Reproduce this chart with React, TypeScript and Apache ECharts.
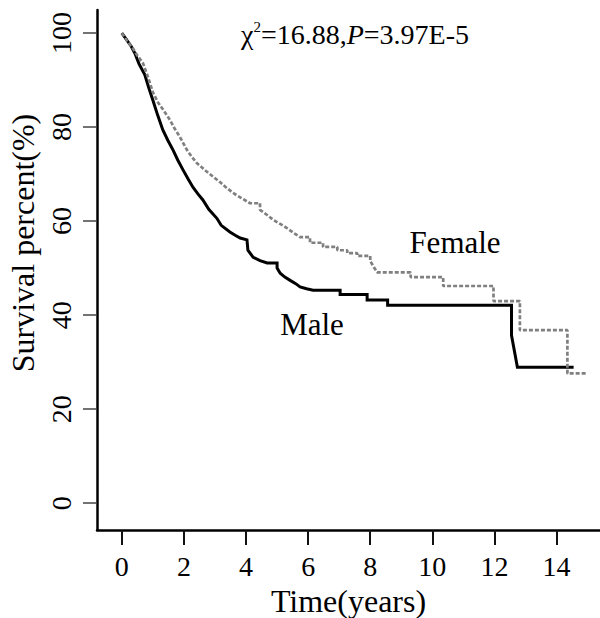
import React, { useEffect, useRef } from "react";
import * as echarts from "echarts";

const maleTime = [0, 0.15, 0.3, 0.42, 0.55, 0.74, 0.87, 1.0, 1.15, 1.32, 1.48, 1.65, 1.8, 1.97, 2.13, 2.29, 2.45, 2.61, 2.8, 3.06, 3.2, 3.48, 3.65, 3.81, 4.03, 4.06, 4.23, 4.45, 4.68, 5.0, 5.1, 5.25, 5.42, 5.6, 5.74, 5.95, 6.16, 7.03, 7.9, 8.56, 12.55, 12.74, 14.55];
const maleSurv = [100, 98.6, 97.2, 95.7, 93.5, 91.1, 88.3, 85.7, 82.6, 79.4, 77.2, 75.1, 73.0, 70.9, 69.0, 67.2, 65.8, 64.5, 62.5, 60.6, 59.1, 57.7, 57.0, 56.4, 56.0, 53.8, 52.3, 51.6, 51.1, 50.0, 48.9, 48.1, 47.4, 46.7, 46.0, 45.6, 45.3, 44.4, 43.2, 42.1, 35.7, 28.9, 28.9];

const femaleTime = [0, 0.15, 0.35, 0.5, 0.68, 0.85, 1.0, 1.16, 1.35, 1.55, 1.7, 1.87, 2.1, 2.25, 2.42, 2.6, 2.74, 2.95, 3.16, 3.35, 3.58, 3.85, 4.13, 4.45, 4.68, 4.87, 5.1, 5.32, 5.55, 5.74, 6.06, 6.48, 6.94, 7.26, 7.58, 8.0, 8.22, 9.3, 10.35, 11.97, 12.82, 14.35, 15.0];
const femaleSurv = [100, 98.5, 96.8, 95.2, 93.6, 90.5, 87.4, 85.3, 83.5, 81.5, 79.7, 77.9, 75.1, 73.7, 72.3, 71.3, 70.5, 69.4, 68.3, 67.2, 66.0, 64.9, 63.8, 62.4, 61.3, 60.3, 59.4, 58.5, 57.4, 56.6, 55.4, 54.5, 53.8, 53.2, 52.6, 51.5, 49.1, 48.1, 46.2, 43.0, 36.8, 27.6, 27.6];

const xTicks = [0, 2, 4, 6, 8, 10, 12, 14];
const yTicks = [0, 20, 40, 60, 80, 100];

const FONT = "'Liberation Serif', 'Times New Roman', serif";

// Kaplan-Meier path: dense early events drawn as a continuous line,
// long gaps drawn as a horizontal step followed by the drop.
function kmPath(times: number[], surv: number[]) {
  const out: number[][] = [[times[0], surv[0]]];
  for (let i = 1; i < times.length; i++) {
    if (times[i] - times[i - 1] > 0.3) out.push([times[i], surv[i - 1]]);
    out.push([times[i], surv[i]]);
  }
  return out;
}

export default function App() {
  const ref = useRef<HTMLDivElement>(null);
  useEffect(() => {
    document.body.style.margin = "0";
    if (!ref.current) return;
    const chart = echarts.init(ref.current, null, { renderer: "svg" });
    chart.setOption({
      animation: false,
      backgroundColor: "#fff",
      grid: { left: 97, top: 10, right: 0, bottom: 88, containLabel: false, outerBoundsMode: "none" },
      xAxis: {
        type: "value",
        min: -0.8,
        max: 15.4,
        axisLine: { show: true, onZero: false, lineStyle: { color: "#000", width: 2.5 } },
        axisTick: { show: true, length: 15, customValues: xTicks, lineStyle: { color: "#111", width: 2 } },
        axisLabel: { customValues: xTicks, margin: 22, fontSize: 28, fontFamily: FONT, color: "#000" },
        splitLine: { show: false },
        name: "Time(years)",
        nameLocation: "middle",
        nameGap: 48,
        nameTextStyle: { fontSize: 32, fontFamily: FONT, color: "#000" },
      },
      yAxis: {
        type: "value",
        min: -5.7,
        max: 104.9,
        axisLine: { show: true, onZero: false, lineStyle: { color: "#000", width: 2.5 } },
        axisTick: { show: true, length: 14, customValues: yTicks, lineStyle: { color: "#444", width: 1.5 } },
        axisLabel: { customValues: yTicks, rotate: 90, margin: 22, fontSize: 28, fontFamily: FONT, color: "#000" },
        splitLine: { show: false },
      },
      series: [
        {
          name: "Male",
          type: "line",
          showSymbol: false,
          data: kmPath(maleTime, maleSurv),
          lineStyle: { color: "#000", width: 3, join: "miter" },
          z: 2,
        },
        {
          name: "Female",
          type: "line",
          showSymbol: false,
          data: kmPath(femaleTime, femaleSurv),
          lineStyle: { color: "#808080", width: 2.7, type: [4, 2] },
          z: 3,
        },
      ],
      graphic: [
        {
          type: "text",
          x: 355,
          y: 34,
          style: {
            text: "{n|χ}{sup|2}{n|=16.88,}{it|P}{n|=3.97E-5}",
            rich: {
              n: { fontSize: 28, fontFamily: FONT, fill: "#000", color: "#000", lineHeight: 30 },
              it: { fontSize: 28, fontFamily: FONT, fontStyle: "italic", fill: "#000", color: "#000", lineHeight: 30 },
              sup: { fontSize: 15, fontFamily: FONT, fill: "#000", color: "#000", verticalAlign: "top", lineHeight: 30 },
            },
            textAlign: "center",
            align: "center",
            textVerticalAlign: "middle",
            verticalAlign: "middle",
          },
        },
        {
          type: "text",
          x: 455,
          y: 242,
          style: { text: "Female", font: `31px ${FONT}`, fill: "#000", textAlign: "center", textVerticalAlign: "middle", align: "center", verticalAlign: "middle" },
        },
        {
          type: "text",
          x: 312,
          y: 324,
          style: { text: "Male", font: `31px ${FONT}`, fill: "#000", textAlign: "center", textVerticalAlign: "middle", align: "center", verticalAlign: "middle" },
        },
        {
          type: "text",
          x: 23,
          y: 243,
          rotation: Math.PI / 2,
          style: { text: "Survival percent(%)", font: `32px ${FONT}`, fill: "#000", textAlign: "center", textVerticalAlign: "middle", align: "center", verticalAlign: "middle" },
        },
      ],
    });
    return () => chart.dispose();
  }, []);
  return <div ref={ref} style={{ width: 600, height: 618 }} />;
}
